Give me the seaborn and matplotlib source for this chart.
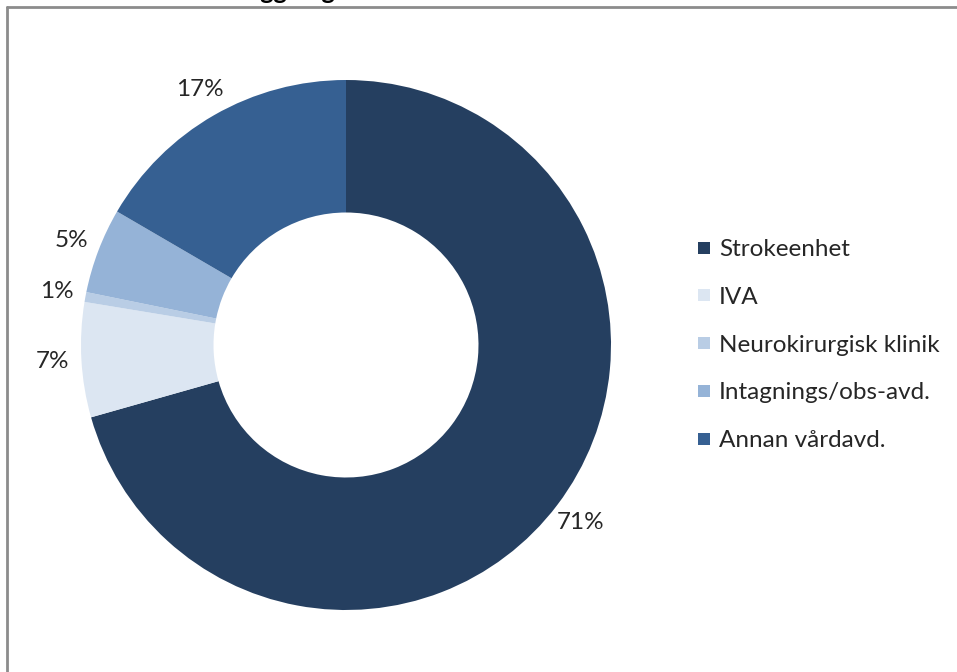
import matplotlib
matplotlib.use("Agg")
import matplotlib.pyplot as plt
from matplotlib.lines import Line2D
import seaborn as sns

# Share of patients by ward type at admission (percent)
categories = ["Strokeenhet", "IVA", "Neurokirurgisk klinik",
              "Intagnings/obs-avd.", "Annan vårdavd."]
shares = [70.6, 7.0, 0.6, 5.2, 16.6]
colors = ["#253F60", "#DCE6F2", "#B9CDE5", "#95B3D7", "#366092"]
title = "Vårdform vid inläggning"

sns.set_theme(style="white")
plt.rcParams["font.family"] = ["Lato", "DejaVu Sans"]

W, H, DPI = 957, 672, 100
fig = plt.figure(figsize=(W / DPI, H / DPI), dpi=DPI)
fig.patch.set_facecolor("white")

# donut axes: centre and outer radius in pixels
cx, cy, R = 346, 345, 265
lim = 1.3
side = 2 * lim * R
ax = fig.add_axes([(cx - side / 2) / W, (H - cy - side / 2) / H, side / W, side / H])

palette = sns.color_palette(colors)
wedges, texts, autotexts = ax.pie(
    shares,
    colors=palette,
    startangle=90,
    counterclock=False,
    radius=1.0,
    wedgeprops=dict(width=0.5, linewidth=0),
    autopct=lambda p: f"{p:.0f}%",
    pctdistance=1.11,
    textprops=dict(fontsize=17.5, color="#262626"),
)
ax.set_xlim(-lim, lim)
ax.set_ylim(-lim, lim)
ax.set_aspect("equal")
ax.axis("off")

# legend to the right of the ring
handles = [Line2D([0], [0], marker="s", linestyle="none", markersize=9,
                  markerfacecolor=c, markeredgewidth=0) for c in palette]
fig.legend(handles, categories, loc="upper left",
           bbox_to_anchor=(697 / W, 1 - 239 / H),
           frameon=False, fontsize=17.5, handlelength=0.6, handletextpad=0.3,
           labelspacing=1.1, borderaxespad=0, borderpad=0)

# chart frame (top and left edges)
fig.add_artist(Line2D([7 / W, 1.0], [1 - 7 / H, 1 - 7 / H], transform=fig.transFigure,
                      color="#8C8C8C", linewidth=2))
fig.add_artist(Line2D([7 / W, 7 / W], [0.0, 1 - 7 / H], transform=fig.transFigure,
                      color="#8C8C8C", linewidth=2))

# chart title sits above the frame
fig.text(335 / W, 1 + 1 / H, title, ha="right", va="baseline",
         fontsize=18, fontweight="bold", color="black")

fig.savefig("out.png", dpi=DPI)
